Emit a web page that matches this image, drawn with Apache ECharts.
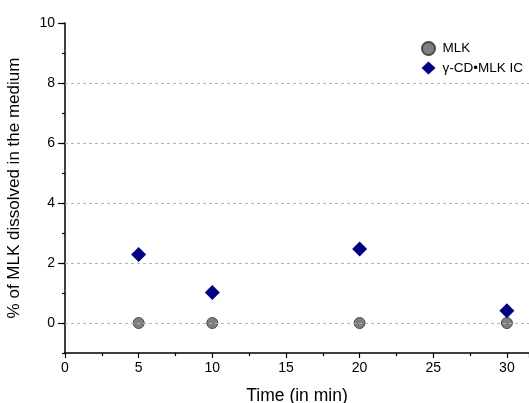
<!DOCTYPE html>
<html><head><meta charset="utf-8">
<script src="https://cdn.jsdelivr.net/npm/echarts@6/dist/echarts.min.js"></script>
<style>html,body{margin:0;padding:0;background:#fff}#c{width:529px;height:403px}</style>
</head><body><div id="c"></div>
<script>
var times = [5, 10, 20, 30];
var mlk = [0, 0, 0, 0];
var cdMlk = [2.28, 1.02, 2.47, 0.41];
var yMajorTicks = [0, 2, 4, 6, 8, 10];
var gridValues = [0, 2, 4, 6, 8];
var seriesNames = ['MLK', 'γ-CD•MLK IC'];

var font = 'Liberation Sans, Arial, sans-serif';
var chart = echarts.init(document.getElementById('c'));
chart.setOption({
  backgroundColor: '#ffffff',
  animation: false,
  grid: {left: 65, top: 23, right: 0, bottom: 50, containLabel: false, outerBoundsMode: 'none'},
  legend: {
    orient: 'vertical', left: 416, top: 36, itemGap: 5, itemWidth: 14, itemHeight: 13,
    textStyle: {fontFamily: font, fontSize: 13.5, color: '#000', padding: [0, 0, 0, 2]},
    data: [{name: seriesNames[0], icon: 'circle'}, {name: seriesNames[1], icon: 'diamond'}]
  },
  xAxis: {
    type: 'value', min: 0, max: 31.5, interval: 5,
    name: 'Time (in min)', nameLocation: 'middle', nameGap: 34,
    nameTextStyle: {fontFamily: font, fontSize: 17.5, color: '#000'},
    axisLine: {show: true, onZero: false, lineStyle: {color: '#000', width: 1.5}},
    axisTick: {show: true, length: 5, lineStyle: {color: '#000', width: 1.2}},
    minorTick: {show: true, splitNumber: 2, length: 3, lineStyle: {color: '#000', width: 1.2}},
    axisLabel: {fontFamily: font, fontSize: 14, color: '#000', margin: 8,
      formatter: function (v) { return v % 5 === 0 ? String(v) : ''; }},
    splitLine: {show: false}
  },
  yAxis: [{
    type: 'value', min: -1, max: 10, interval: 1,
    name: '% of MLK dissolved in the medium', nameLocation: 'middle', nameGap: 42,
    nameTextStyle: {fontFamily: font, fontSize: 17, color: '#000'},
    axisLine: {show: true, onZero: false, lineStyle: {color: '#000', width: 1.5}},
    axisTick: {show: true, length: 7, customValues: yMajorTicks, lineStyle: {color: '#000', width: 1.2}},
    axisLabel: {fontFamily: font, fontSize: 14, color: '#000', margin: 10, customValues: yMajorTicks},
    splitLine: {show: false}
  }, {
    type: 'value', min: -1, max: 10, interval: 1, position: 'left', offset: 0,
    axisLine: {show: false}, axisLabel: {show: false}, splitLine: {show: false},
    axisTick: {show: true, length: 3, lineStyle: {color: '#000', width: 1.2}}
  }],
  series: [{
    name: seriesNames[0], type: 'scatter', symbol: 'circle', symbolSize: 11,
    itemStyle: {color: '#7f7f7f', borderColor: '#4a4a4a', borderWidth: 1, opacity: 1},
    data: times.map(function (t, i) { return [t, mlk[i]]; }),
    markLine: {
      silent: true, symbol: 'none', label: {show: false},
      lineStyle: {color: '#b4b4b4', type: [3, 3], width: 1},
      data: gridValues.map(function (v) { return {yAxis: v}; })
    },
    z: 3
  }, {
    name: seriesNames[1], type: 'scatter', symbol: 'diamond', symbolSize: 15,
    itemStyle: {color: '#000080', opacity: 1},
    data: times.map(function (t, i) { return [t, cdMlk[i]]; }),
    z: 4
  }]
});
</script>
</body></html>
